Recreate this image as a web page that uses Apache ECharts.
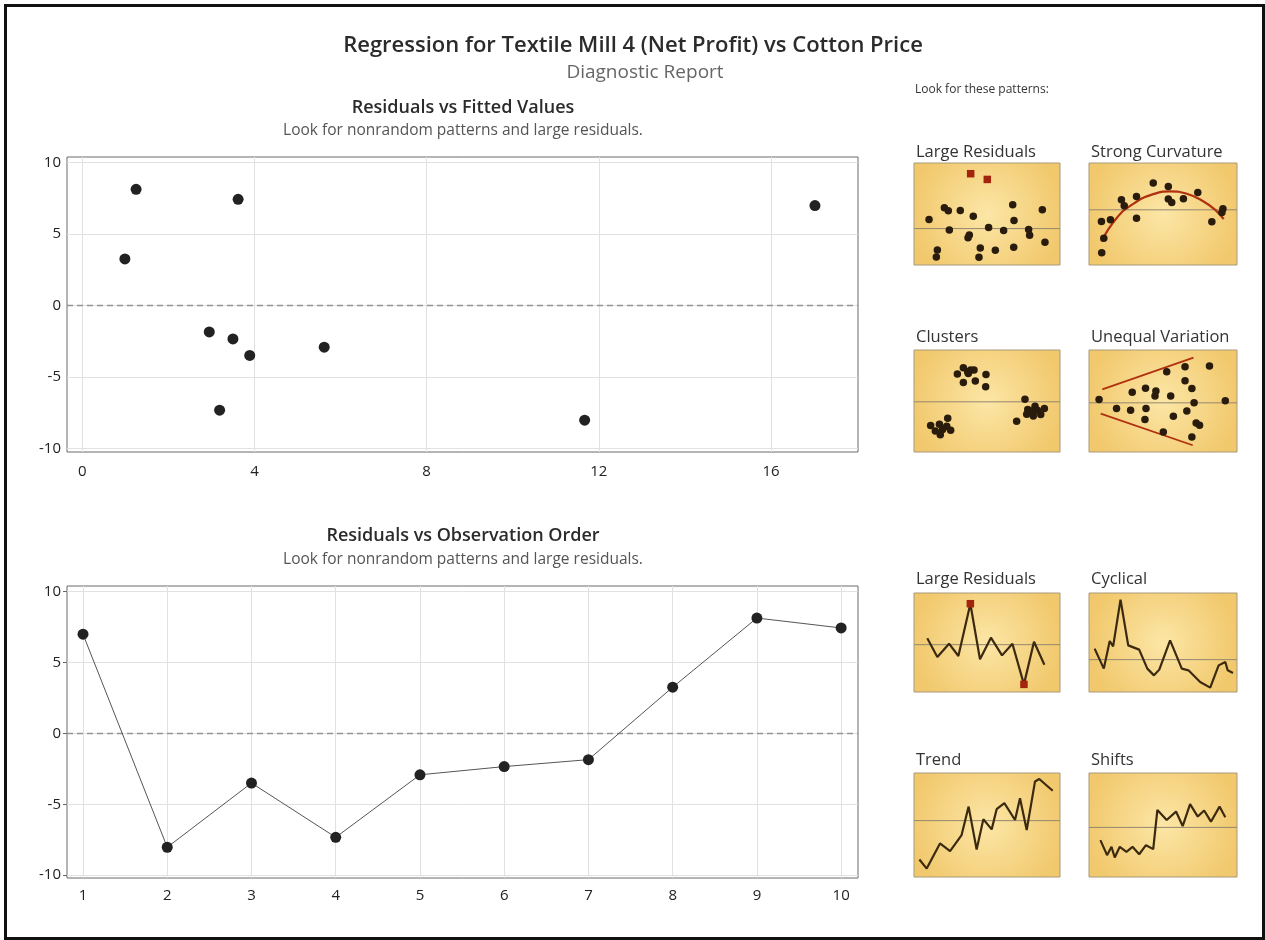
<!DOCTYPE html>
<html><head><meta charset="utf-8">
<script src="https://cdn.jsdelivr.net/npm/echarts@6/dist/echarts.min.js"></script>
<style>html,body{margin:0;padding:0;background:#fff}#c{width:1265px;height:940px}</style>
</head><body><div id="c"></div>
<script>
// ---- main data ----
const obsOrder = [1, 2, 3, 4, 5, 6, 7, 8, 9, 10];
const fittedValues = [17.02, 11.67, 3.89, 3.19, 5.62, 3.50, 2.95, 0.99, 1.25, 3.62];
const residuals = [7.0, -8.03, -3.50, -7.33, -2.92, -2.34, -1.85, 3.26, 8.14, 7.44];
const fittedTicks = [0, 4, 8, 12, 16];
const residTicks = [-10, -5, 0, 5, 10];
const orderTicks = [1, 2, 3, 4, 5, 6, 7, 8, 9, 10];

// ---- pattern thumbnails (normalised 0-100) ----
const thumbTitles = ['Large Residuals', 'Strong Curvature', 'Clusters', 'Unequal Variation', 'Large Residuals', 'Cyclical', 'Trend', 'Shifts'];
const thumbRefLevels = [35.7, 54.1, 49.2, 48.2, 47.8, 32.7, 54.2, 47.7];
const lrScatterPts = [[10.3,44.6],[20.8,56.1],[23.5,53.1],[31.7,53.4],[40.6,47.9],[67.6,59.0],[87.9,54.1],[68.5,43.6],[24.2,34.4],[51.1,36.7],[61.4,33.8],[78.5,34.8],[79.2,29.2],[37.9,29.5],[37.0,26.6],[89.7,22.3],[16.0,14.8],[15.3,7.9],[45.4,16.7],[55.7,14.4],[68.3,17.4],[44.5,7.5]];
const lrScatterOutliers = [[38.8,89.5],[50.2,83.9]];
const curvPts = [[8.4,42.6],[14.5,44.3],[10.0,26.2],[8.6,12.1],[21.9,63.9],[23.8,58.0],[32.1,67.2],[32.1,45.9],[43.4,80.3],[53.6,77.0],[53.6,64.6],[55.9,61.3],[63.8,64.9],[73.5,71.1],[83.0,42.3],[90.5,55.1],[89.8,51.5]];
const curvFit = [[8.4,23],[18.6,45.9],[29.9,60],[43.4,69.5],[54.8,72.1],[66.1,69.8],[77.4,62.3],[85.3,54.1],[91,44.9]];
const clusterPts = [[33.8,82.6],[38.8,80.3],[41.1,80.3],[29.7,76.4],[37.2,77.0],[49.3,76.1],[33.8,68.2],[42.0,69.5],[49.1,63.9],[36.8,78.7],[23.1,33.1],[11.4,25.9],[17.4,27.2],[22.4,25.2],[25.1,21.3],[14.6,20.7],[18.0,17.0],[19.6,22.0],[76.0,51.8],[70.3,30.2],[77.9,41.6],[82.9,44.9],[89.3,42.6],[77.2,37.0],[81.7,35.4],[86.8,36.7],[84.5,41.0],[80.6,40.3]];
const unequalPts = [[6.8,51.5],[18.6,42.6],[28.1,41.0],[29.2,58.7],[38.2,62.6],[38.5,42.6],[37.8,31.8],[45.2,59.7],[44.6,54.8],[50.2,19.7],[52.5,78.7],[55.2,54.8],[57.0,35.1],[64.9,83.6],[64.9,69.8],[66.1,40.3],[69.5,62.3],[71.0,48.2],[72.4,28.5],[74.7,26.2],[69.5,14.8],[81.4,84.3],[92.1,50.2]];
const unequalUpper = [[9.0,61.3],[70.6,92.5]];
const unequalLower = [[7.9,37.7],[70.1,6.6]];
const lrLinePts = [[9.1,54.2],[16.0,35.4],[24.0,48.8],[30.4,36.4],[38.6,89.2],[45.2,33.0],[52.7,54.9],[60.3,37.0],[67.4,48.8],[75.3,7.7],[82.2,50.8],[89.3,27.6]];
const lrLineOutliers = [[38.6,89.2],[75.3,7.7]];
const cyclicalPts = [[3.8,43.8],[10.0,23.6],[14.0,51.5],[16.3,46.1],[21.3,93.3],[26.5,47.1],[33.9,42.8],[39.4,23.6],[43.9,16.8],[47.5,22.6],[54.8,52.2],[62.7,23.6],[67.2,21.9],[75.1,10.1],[81.9,4.4],[87.6,26.9],[92.1,30.3],[93.7,21.9],[97.3,19.2]];
const trendPts = [[3.7,16.8],[8.7,8.1],[17.8,32.3],[24.7,24.8],[32.6,40.3],[37.4,67.7],[42.9,26.5],[47.5,55.5],[53.2,45.8],[56.6,65.2],[61.9,71.0],[69.2,54.8],[72.6,75.8],[77.2,45.2],[82.9,91.9],[85.8,94.2],[95.0,82.9]];
const shiftPts = [[7.7,35.5],[12.2,21.0],[15.2,29.0],[17.4,18.7],[20.8,29.0],[25.3,24.2],[29.4,29.0],[33.9,21.9],[38.5,30.6],[43.4,26.8],[46.2,64.5],[52.5,54.8],[58.8,62.9],[63.3,49.0],[68.3,70.0],[73.5,58.1],[77.8,63.9],[82.4,53.2],[88.2,67.7],[92.1,57.4]];

const FONT = '"Open Sans", "Noto Sans", sans-serif';
const chart = echarts.init(document.getElementById('c'));

const grids = [
  {left: 67, top: 157, width: 791, height: 295, show: true, borderColor: '#6b6b6b', borderWidth: 1},
  {left: 67, top: 586, width: 791, height: 292, show: true, borderColor: '#6b6b6b', borderWidth: 1}
];
const thumbBoxes = [
  [914, 163, 146, 102], [1089, 163, 148, 102],
  [914, 350, 146, 102], [1089, 350, 148, 102],
  [914, 593, 146, 99], [1089, 593, 148, 99],
  [914, 773, 146, 104], [1089, 773, 148, 104]
];
const gold = {type: 'radial', x: 0.5, y: 0.5, r: 0.75, colorStops: [{offset: 0, color: '#fce6a6'}, {offset: 1, color: '#f1c86c'}]};
thumbBoxes.forEach(b => grids.push({left: b[0], top: b[1], width: b[2], height: b[3], show: true, backgroundColor: gold, borderColor: '#a8997a', borderWidth: 1}));

function mainAxis(gi, min, max, ticks, margin) {
  return {
    type: 'value', gridIndex: gi, min: min, max: max,
    axisLine: {show: false},
    axisTick: {show: true, customValues: ticks, length: 4, lineStyle: {color: '#666'}},
    axisLabel: {customValues: ticks, color: '#222', fontSize: 15, fontFamily: FONT, margin: margin},
    splitLine: {show: false}
  };
}
const xAxes = [mainAxis(0, -0.355, 18.02, fittedTicks, 12), mainAxis(1, 0.81, 10.2, orderTicks, 10)];
const yAxes = [mainAxis(0, -10.26, 10.4, residTicks, 6), mainAxis(1, -10.2, 10.4, residTicks, 6)];
for (let i = 0; i < 8; i++) {
  xAxes.push({type: 'value', gridIndex: i + 2, min: 0, max: 100, show: false});
  yAxes.push({type: 'value', gridIndex: i + 2, min: 0, max: 100, show: false});
}

function gridHelper(ai, xt, yt) {
  return {
    type: 'scatter', xAxisIndex: ai, yAxisIndex: ai, data: [], z: 1, silent: true,
    markLine: {
      z: 1, symbol: 'none', silent: true, animation: false, label: {show: false},
      lineStyle: {color: '#e1e1e1', width: 1, type: 'solid'},
      data: xt.map(v => ({xAxis: v})).concat(yt.map(v => ({yAxis: v})))
        .concat([{yAxis: 0, lineStyle: {color: '#939393', width: 1.3, type: [6, 4]}}])
    }
  };
}

const DOT = '#222';
const series = [
  gridHelper(0, fittedTicks, residTicks),
  gridHelper(1, orderTicks, residTicks),
  {type: 'scatter', xAxisIndex: 0, yAxisIndex: 0, z: 3, symbolSize: 11, itemStyle: {color: DOT, opacity: 1},
   data: fittedValues.map((f, i) => [f, residuals[i]])},
  {type: 'line', xAxisIndex: 1, yAxisIndex: 1, z: 3, symbol: 'circle', symbolSize: 11, showSymbol: true,
   itemStyle: {color: DOT, opacity: 1}, lineStyle: {color: '#555', width: 1},
   data: obsOrder.map((o, i) => [o, residuals[i]])}
];

const TB = '#2a1c0c', RED = '#a3240c', CURVE = '#b0300f', LINE = '#3b2a10';
function refLine(idx) {
  return {type: 'line', xAxisIndex: idx + 2, yAxisIndex: idx + 2, z: 2, symbol: 'none', silent: true,
    lineStyle: {color: '#948770', width: 1}, data: [[0, thumbRefLevels[idx]], [100, thumbRefLevels[idx]]]};
}
function tScatter(idx, pts, color, sym, size) {
  return {type: 'scatter', xAxisIndex: idx + 2, yAxisIndex: idx + 2, z: 4, symbol: sym || 'circle',
    symbolSize: size || 7.5, itemStyle: {color: color || TB, opacity: 1}, data: pts, silent: true};
}
function tLine(idx, pts, color, width, smooth) {
  return {type: 'line', xAxisIndex: idx + 2, yAxisIndex: idx + 2, z: 3, symbol: 'none', smooth: !!smooth,
    lineStyle: {color: color || LINE, width: width || 2}, data: pts, silent: true};
}
for (let i = 0; i < 8; i++) series.push(refLine(i));
series.push(tScatter(0, lrScatterPts), tScatter(0, lrScatterOutliers, RED, 'rect', 7.5));
series.push(tLine(1, curvFit, CURVE, 2.2, true), tScatter(1, curvPts));
series.push(tScatter(2, clusterPts));
series.push(tLine(3, unequalUpper, CURVE, 1.8), tLine(3, unequalLower, CURVE, 1.8), tScatter(3, unequalPts));
series.push(tLine(4, lrLinePts, LINE, 2.2), tScatter(4, lrLineOutliers, RED, 'rect', 7.5));
series.push(tLine(5, cyclicalPts, LINE, 2.2));
series.push(tLine(6, trendPts, LINE, 2.2));
series.push(tLine(7, shiftPts, LINE, 2.2));

function txt(x, y, text, size, color, align, weight) {
  return {type: 'text', x: x, y: y, silent: true,
    style: {text: text, fontSize: size, fontFamily: FONT, fontWeight: weight || 'normal', fill: color, align: align || 'center', verticalAlign: 'middle'}};
}
const labelY = [152, 152, 337, 337, 579, 579, 760, 760];
const graphics = [
  {type: 'rect', silent: true, shape: {x: 5.5, y: 5.5, width: 1258, height: 933}, style: {fill: 'none', stroke: '#111', lineWidth: 3}},
  txt(633, 46, 'Regression for Textile Mill 4 (Net Profit) vs Cotton Price', 22, '#2b2b2b', 'center', 600),
  txt(645, 73, 'Diagnostic Report', 19, '#666'),
  txt(463, 108, 'Residuals vs Fitted Values', 18, '#2b2b2b', 'center', 600),
  txt(463, 131, 'Look for nonrandom patterns and large residuals.', 15.5, '#555'),
  txt(463, 536, 'Residuals vs Observation Order', 18, '#2b2b2b', 'center', 600),
  txt(463, 560, 'Look for nonrandom patterns and large residuals.', 15.5, '#555'),
  txt(915, 90, 'Look for these patterns:', 12, '#333', 'left')
];
thumbBoxes.forEach((b, i) => graphics.push(txt(b[0] + 2, labelY[i], thumbTitles[i], 16.5, '#333', 'left')));

chart.setOption({
  animation: false,
  backgroundColor: '#fff',
  grid: grids,
  xAxis: xAxes,
  yAxis: yAxes,
  series: series,
  graphic: graphics
});
</script>
</body></html>
